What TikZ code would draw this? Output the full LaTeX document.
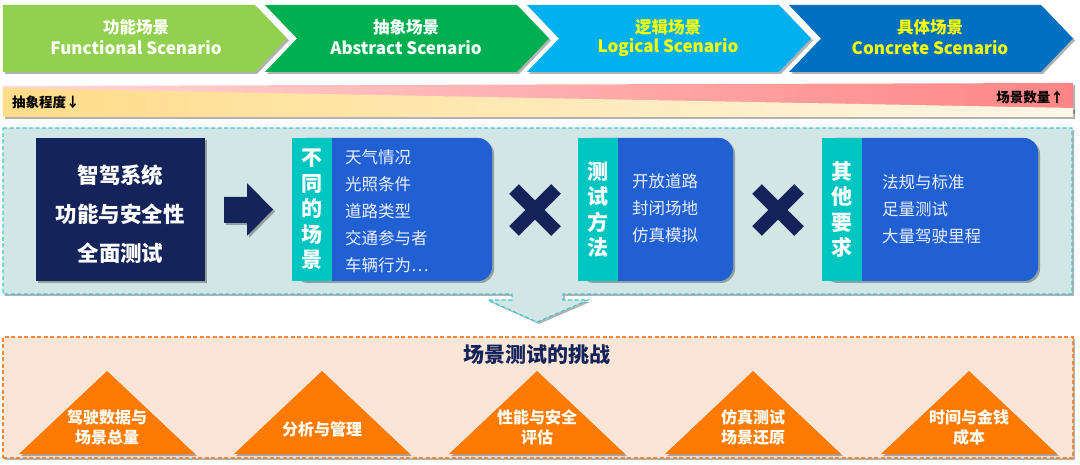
\documentclass[tikz,border=0pt]{standalone}
\usepackage{fontspec}
\setmainfont{Noto Sans CJK SC}
\usetikzlibrary{shadows}
\definecolor{cvA}{HTML}{92D050}
\definecolor{cvB}{HTML}{00B050}
\definecolor{cvC}{HTML}{00B0F0}
\definecolor{cvD}{HTML}{0070C0}
\definecolor{ylw}{HTML}{FFFF00}
\definecolor{pinkL}{HTML}{FFD8D8}
\definecolor{pinkR}{HTML}{FF8585}
\definecolor{yelL}{HTML}{FFDC88}
\definecolor{yelR}{HTML}{FFF6E6}
\definecolor{panelF}{HTML}{D3E6E6}
\definecolor{panelB}{HTML}{3CCACA}
\definecolor{navy}{HTML}{14245A}
\definecolor{boxB}{HTML}{2060D2}
\definecolor{stripT}{HTML}{00C6C1}
\definecolor{listT}{HTML}{ECEEF8}
\definecolor{orgF}{HTML}{FBE5D6}
\definecolor{orgB}{HTML}{F4893A}
\definecolor{orgT}{HTML}{FF7A00}
\tikzset{
  shd/.style={drop shadow={shadow xshift=2pt,shadow yshift=-2pt,opacity=0.3,fill=black}},
  chevtxt/.style={font=\bfseries\fontsize{16.5}{16.5}\selectfont,inner sep=0pt},
  chevtxtEN/.style={font=\bfseries\fontsize{17}{17}\selectfont,inner sep=0pt},
  barlbl/.style={font=\bfseries\fontsize{13.5}{13.5}\selectfont,inner sep=0pt,text=black},
  bluebox/.style={fill=boxB,rounded corners=14pt,minimum width=200pt,minimum height=143pt,inner sep=0pt,shd},
  stripbox/.style={fill=stripT,minimum width=40pt,minimum height=143pt,inner sep=0pt,text=white,align=center,
     font=\bfseries\fontsize{21}{25.5}\selectfont},
  listtxt/.style={anchor=west,inner sep=0pt,align=left,text=listT,font=\fontsize{16.5}{27}\selectfont},
  xmark/.style={navy,line width=13.5pt},
  tri/.style={fill=orgT,shd},
  tritxt/.style={inner sep=0pt,align=center,text=white,font=\bfseries\fontsize{16}{19.5}\selectfont},
}
\begin{document}
\begin{tikzpicture}[x=1pt,y=-1pt]
\useasboundingbox (0,0) rectangle (1080,465);
\fill[white] (0,0) rectangle (1080,465);
% chevrons
\fill[cvA,shd] (3,5) -- (255,5) -- (287,38.5) -- (255,72) -- (3,72) -- cycle;
\fill[cvB,shd] (265,5) -- (517,5) -- (549,38.5) -- (517,72) -- (265,72) -- (297,38.5) -- cycle;
\fill[cvC,shd] (527,5) -- (779,5) -- (811,38.5) -- (779,72) -- (527,72) -- (559,38.5) -- cycle;
\fill[cvD,shd] (789,5) -- (1041,5) -- (1073,38.5) -- (1041,72) -- (789,72) -- (821,38.5) -- cycle;
\node[chevtxt,text=white] (c1a) at (136,27) {功能场景};
\node[chevtxtEN,text=white] (c1b) at (136,47.5) {Functional Scenario};
\node[chevtxt,text=white] (c2a) at (406,27) {抽象场景};
\node[chevtxtEN,text=white] (c2b) at (406,47.5) {Abstract Scenario};
\node[chevtxt,text=ylw] (c3a) at (668,27) {逻辑场景};
\node[chevtxtEN,text=ylw] (c3b) at (668,47.5) {Logical Scenario};
\node[chevtxt,text=ylw] (c4a) at (930,27) {具体场景};
\node[chevtxtEN,text=ylw] (c4b) at (930,47.5) {Concrete Scenario};
% gradient bars
\shade[left color=pinkL,right color=pinkR,shd] (3,86) -- (1073,83) -- (1073,112) -- (3,89) -- cycle;
\shade[left color=yelL,right color=yelR,shd] (3,88) -- (1073,108) -- (1073,117) -- (3,117) -- cycle;
\node[barlbl,anchor=west] (abs) at (12,102) {抽象程度↓};
\node[barlbl,anchor=east] (num) at (1064,97) {场景数量↑};
% middle panel with pointer
\filldraw[fill=panelF,draw=panelB,line width=1.1pt,dash pattern=on 4pt off 2.5pt,shd]
  (3,128) -- (1072,128) -- (1072,294) -- (563,294) -- (563,300) -- (588,300) -- (537,322)
  -- (488,300) -- (512,300) -- (512,294) -- (3,294) -- cycle;
\node[fill=navy,minimum width=169pt,minimum height=143pt,inner sep=0pt,shd] (sys) at (120.5,209.5) {};
\node[inner sep=0pt,text=white,align=center,font=\bfseries\fontsize{21.5}{39}\selectfont]
  (systxt) at (120.5,214) {智驾系统\\功能与安全性\\全面测试};
\fill[navy,shd] (224,197) -- (247,197) -- (247,183) -- (273,209.5) -- (247,236) -- (247,223) -- (224,223) -- cycle;
% box 1
\node[bluebox] (b1) at (392,209.5) {};
\node[stripbox] (s1) at (312,209.5) {不\\同\\的\\场\\景};
\node[listtxt] (l1) at (345,211) {天气情况\\光照条件\\道路类型\\交通参与者\\车辆行为…};
\draw[xmark] (514,189) -- (556,231);
\draw[xmark] (556,189) -- (514,231);
% box 2
\node[bluebox,minimum width=155pt] (b2) at (655.5,209.5) {};
\node[stripbox] (s2) at (598,209.5) {测\\试\\方\\法};
\node[listtxt] (l2) at (632,208.5) {开放道路\\封闭场地\\仿真模拟};
\draw[xmark] (757,189) -- (799,231);
\draw[xmark] (799,189) -- (757,231);
% box 3
\node[bluebox,minimum width=216pt] (b3) at (930,209.5) {};
\node[stripbox] (s3) at (842,209.5) {其\\他\\要\\求};
\node[listtxt] (l3) at (882,209) {法规与标准\\足量测试\\大量驾驶里程};
% bottom panel
\node[fill=orgF,draw=orgB,line width=1.1pt,dash pattern=on 4pt off 2.5pt,minimum width=1070pt,minimum height=121pt,inner sep=0pt,shd] (chal) at (538,397.5) {};
\node[inner sep=0pt,text=navy,font=\bfseries\fontsize{21}{21}\selectfont] (title) at (537,355) {场景测试的挑战};
\fill[tri] (107,371) -- (195,454) -- (19,454) -- cycle;
\fill[tri] (322,371) -- (410,454) -- (234,454) -- cycle;
\fill[tri] (537,371) -- (625,454) -- (449,454) -- cycle;
\fill[tri] (753,371) -- (841,454) -- (665,454) -- cycle;
\fill[tri] (969,371) -- (1057,454) -- (881,454) -- cycle;
\node[tritxt] (t1) at (107,427.5) {驾驶数据与\\场景总量};
\node[tritxt] (t2) at (322,429) {分析与管理};
\node[tritxt] (t3) at (537,427.5) {性能与安全\\评估};
\node[tritxt] (t4) at (753,427.5) {仿真测试\\场景还原};
\node[tritxt] (t5) at (969,427.5) {时间与金钱\\成本};
\end{tikzpicture}
\end{document}
